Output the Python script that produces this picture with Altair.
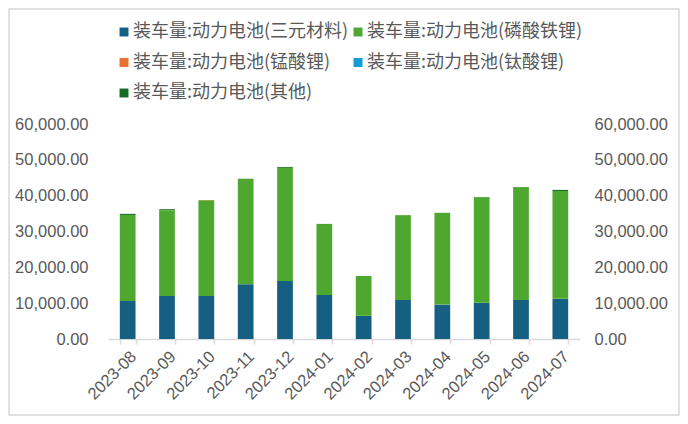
import altair as alt
import pandas as pd

months = ["2023-08", "2023-09", "2023-10", "2023-11", "2023-12", "2024-01",
          "2024-02", "2024-03", "2024-04", "2024-05", "2024-06", "2024-07"]
ncm = [10600, 12000, 12000, 15300, 16200, 12300, 6500, 10900, 9600, 10100, 10900, 11200]
lfp = [24000, 23950, 26750, 29340, 31550, 19770, 11080, 23660, 25550, 29440, 31420, 30100]
lmo = [20, 15, 10, 10, 10, 5, 5, 5, 5, 5, 5, 5]
lto = [5, 5, 5, 5, 5, 5, 2, 2, 2, 2, 2, 2]
other = [300, 250, 50, 60, 250, 30, 20, 40, 50, 60, 80, 300]

series_names = ["装车量:动力电池(三元材料)", "装车量:动力电池(磷酸铁锂)",
                "装车量:动力电池(锰酸锂)", "装车量:动力电池(钛酸锂)",
                "装车量:动力电池(其他)"]
series_vals = [ncm, lfp, lmo, lto, other]
colors = ["#156082", "#4EA72E", "#E97132", "#0F9ED5", "#196B24"]

rows = []
for i, (name, vals) in enumerate(zip(series_names, series_vals)):
    for m, v in zip(months, vals):
        rows.append({"month": m, "series": name, "value": v, "order": i})
df = pd.DataFrame(rows)

FONT = "Liberation Sans"
LFONT = "Noto Sans CJK SC"
GREY = "#595959"

y_scale = alt.Scale(domain=[0, 60000], nice=False)
ticks = [0, 10000, 20000, 30000, 40000, 50000, 60000]

bars = alt.Chart(df).mark_bar().encode(
    x=alt.X("month:N", sort=months, title=None,
            scale=alt.Scale(paddingInner=0.6, paddingOuter=0.3),
            axis=alt.Axis(labelAngle=-45, labelFontSize=16.5, labelColor=GREY, labelFont=FONT,
                          domainColor="#D9D9D9", domainWidth=1.5, tickColor="#D9D9D9",
                          tickWidth=1.5, tickSize=5, tickBand="extent", labelPadding=4)),
    y=alt.Y("value:Q", stack="zero", scale=y_scale, title=None,
            axis=alt.Axis(orient="left", values=ticks,
                          format=",.2f", labelFontSize=16.5, labelColor=GREY, labelFont=FONT,
                          domain=False, ticks=False, grid=False, labelPadding=20)),
    color=alt.Color("series:N", sort=series_names,
                    scale=alt.Scale(domain=series_names, range=colors),
                    legend=alt.Legend(title=None, orient="none", legendX=7, legendY=-101,
                                      columns=2, direction="horizontal",
                                      symbolType="square", symbolSize=80,
                                      symbolStrokeWidth=0, labelFontSize=18, labelFont=LFONT,
                                      labelColor=GREY, labelOffset=0, columnPadding=-6,
                                      rowPadding=12.5, labelLimit=400)),
    order=alt.Order("order:Q", sort="ascending"),
)

right = alt.Chart(df).mark_bar(opacity=0).encode(
    x=alt.X("month:N", sort=months),
    y=alt.Y("sum(value):Q", scale=y_scale, title=None,
            axis=alt.Axis(orient="right", values=ticks,
                          format=",.2f", labelFontSize=16.5, labelColor=GREY, labelFont=FONT,
                          domain=False, ticks=False, grid=False, labelPadding=14)),
)

border = alt.Chart(pd.DataFrame({"a": [0]})).mark_rect(
    fill=None, stroke="#D9D9D9", strokeWidth=1.5
).encode(
    x=alt.value(-99), x2=alt.value(571), y=alt.value(-115), y2=alt.value(291)
)

chart = alt.layer(bars, right, border).resolve_scale(y="independent").properties(
    width=472, height=215,
    autosize=alt.AutoSizeParams(type="none"),
    padding={"left": 100, "top": 116, "right": 100, "bottom": 77},
).configure_view(stroke=None)

chart.save("out.html", embed_options={"renderer": "svg", "actions": False})
